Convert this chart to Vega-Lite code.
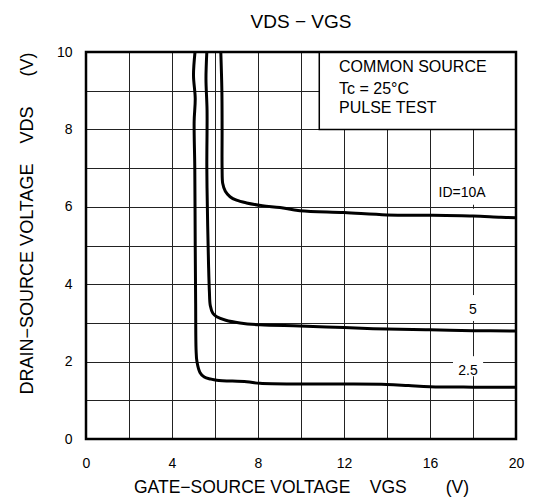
{
  "$schema": "https://vega.github.io/schema/vega-lite/v6.json",
  "width": 430,
  "height": 387,
  "autosize": {"type": "none"},
  "padding": {"left": 86, "top": 52, "right": 19, "bottom": 64},
  "background": "white",
  "title": {"text": "VDS − VGS", "fontSize": 19, "font": "Liberation Sans", "fontWeight": "normal", "offset": 13, "color": "black"},
  "config": {"view": {"stroke": null}},
  "datasets": {
    "curves": [
      {"id": "10A", "i": 1, "x": 6.27, "y": 10.0},
      {"id": "10A", "i": 2, "x": 6.32, "y": 9.0},
      {"id": "10A", "i": 3, "x": 6.33, "y": 8.0},
      {"id": "10A", "i": 4, "x": 6.33, "y": 7.0},
      {"id": "10A", "i": 5, "x": 6.36, "y": 6.6},
      {"id": "10A", "i": 6, "x": 6.48, "y": 6.4},
      {"id": "10A", "i": 7, "x": 6.7, "y": 6.26},
      {"id": "10A", "i": 8, "x": 7.0, "y": 6.17},
      {"id": "10A", "i": 9, "x": 7.47, "y": 6.1},
      {"id": "10A", "i": 10, "x": 8.2, "y": 6.03},
      {"id": "10A", "i": 11, "x": 9.02, "y": 5.98},
      {"id": "10A", "i": 12, "x": 9.95, "y": 5.9},
      {"id": "10A", "i": 13, "x": 12.0, "y": 5.85},
      {"id": "10A", "i": 14, "x": 14.0, "y": 5.79},
      {"id": "10A", "i": 15, "x": 16.0, "y": 5.78},
      {"id": "10A", "i": 16, "x": 18.0, "y": 5.76},
      {"id": "10A", "i": 17, "x": 19.3, "y": 5.73},
      {"id": "10A", "i": 18, "x": 20.0, "y": 5.72},
      {"id": "5A", "i": 1, "x": 5.62, "y": 10.0},
      {"id": "5A", "i": 2, "x": 5.58, "y": 9.3},
      {"id": "5A", "i": 3, "x": 5.63, "y": 8.5},
      {"id": "5A", "i": 4, "x": 5.62, "y": 7.0},
      {"id": "5A", "i": 5, "x": 5.66, "y": 5.5},
      {"id": "5A", "i": 6, "x": 5.7, "y": 4.5},
      {"id": "5A", "i": 7, "x": 5.74, "y": 3.8},
      {"id": "5A", "i": 8, "x": 5.78, "y": 3.45},
      {"id": "5A", "i": 9, "x": 5.9, "y": 3.25},
      {"id": "5A", "i": 10, "x": 6.08, "y": 3.16},
      {"id": "5A", "i": 11, "x": 6.5, "y": 3.07},
      {"id": "5A", "i": 12, "x": 7.16, "y": 3.0},
      {"id": "5A", "i": 13, "x": 8.09, "y": 2.95},
      {"id": "5A", "i": 14, "x": 9.95, "y": 2.92},
      {"id": "5A", "i": 15, "x": 12.0, "y": 2.88},
      {"id": "5A", "i": 16, "x": 14.0, "y": 2.84},
      {"id": "5A", "i": 17, "x": 16.0, "y": 2.82},
      {"id": "5A", "i": 18, "x": 18.0, "y": 2.8},
      {"id": "5A", "i": 19, "x": 20.0, "y": 2.79},
      {"id": "2.5A", "i": 1, "x": 5.07, "y": 10.0},
      {"id": "2.5A", "i": 2, "x": 5.0, "y": 9.4},
      {"id": "2.5A", "i": 3, "x": 5.08, "y": 8.8},
      {"id": "2.5A", "i": 4, "x": 5.03, "y": 8.2},
      {"id": "2.5A", "i": 5, "x": 5.06, "y": 7.0},
      {"id": "2.5A", "i": 6, "x": 5.08, "y": 5.0},
      {"id": "2.5A", "i": 7, "x": 5.1, "y": 3.5},
      {"id": "2.5A", "i": 8, "x": 5.12, "y": 2.3},
      {"id": "2.5A", "i": 9, "x": 5.16, "y": 2.0},
      {"id": "2.5A", "i": 10, "x": 5.3, "y": 1.72},
      {"id": "2.5A", "i": 11, "x": 5.5, "y": 1.6},
      {"id": "2.5A", "i": 12, "x": 5.8, "y": 1.55},
      {"id": "2.5A", "i": 13, "x": 6.08, "y": 1.52},
      {"id": "2.5A", "i": 14, "x": 7.47, "y": 1.48},
      {"id": "2.5A", "i": 15, "x": 8.09, "y": 1.44},
      {"id": "2.5A", "i": 16, "x": 10.0, "y": 1.42},
      {"id": "2.5A", "i": 17, "x": 12.0, "y": 1.42},
      {"id": "2.5A", "i": 18, "x": 14.0, "y": 1.41},
      {"id": "2.5A", "i": 19, "x": 15.0, "y": 1.38},
      {"id": "2.5A", "i": 20, "x": 16.0, "y": 1.35},
      {"id": "2.5A", "i": 21, "x": 18.0, "y": 1.34},
      {"id": "2.5A", "i": 22, "x": 20.0, "y": 1.34}
    ],
    "blanks": [
      {"x": 16.9, "x2": 19.1, "y": 6.05, "y2": 6.8},
      {"x": 17.5, "x2": 18.5, "y": 5.78, "y2": 5.95},
      {"x": 17.7, "x2": 18.3, "y": 3.05, "y2": 3.72},
      {"x": 17.07, "x2": 18.47, "y": 1.62, "y2": 2.14}
    ],
    "box": [{"x": 10.85, "x2": 20, "y": 8, "y2": 10}],
    "frame": [{"x": 0, "x2": 20, "y": 0, "y2": 10}],
    "labels": [
      {"x": 17.49, "y": 6.36, "t": "ID=10A"},
      {"x": 18.0, "y": 3.33, "t": "5"},
      {"x": 17.77, "y": 1.77, "t": "2.5"}
    ],
    "legend": [
      {"x": 11.77, "y": 9.62, "t": "COMMON SOURCE"},
      {"x": 11.77, "y": 9.04, "t": "Tc = 25°C"},
      {"x": 11.77, "y": 8.55, "t": "PULSE TEST"}
    ]
  },
  "encoding": {
    "x": {"field": "x", "type": "quantitative", "scale": {"domain": [0, 20], "nice": false, "zero": false},
      "axis": {"values": [0, 2, 4, 6, 8, 10, 12, 14, 16, 18, 20], "labelExpr": "datum.value % 4 === 0 ? datum.label : ''",
        "grid": true, "gridColor": "#222222", "gridWidth": 1, "gridOpacity": 1, "ticks": false, "tickSize": 0, "domain": false,
        "labelPadding": 17, "labelFontSize": 14, "labelFont": "Liberation Sans", "labelColor": "black", "labelFlush": false,
        "title": "\u00a0\u00a0\u00a0\u00a0GATE−SOURCE VOLTAGE\u00a0\u00a0\u00a0\u00a0VGS\u00a0\u00a0\u00a0\u00a0\u00a0\u00a0\u00a0\u00a0(V)", "titleFontSize": 17.5, "titleFontWeight": "normal", "titleFont": "Liberation Sans",
        "titleColor": "black", "titlePadding": 8}},
    "y": {"field": "y", "type": "quantitative", "scale": {"domain": [0, 10], "nice": false, "zero": false},
      "axis": {"values": [0, 1, 2, 3, 4, 5, 6, 7, 8, 9, 10], "labelExpr": "datum.value % 2 === 0 ? datum.label : ''",
        "grid": true, "gridColor": "#222222", "gridWidth": 1, "gridOpacity": 1, "ticks": false, "tickSize": 0, "domain": false,
        "labelPadding": 14, "labelFontSize": 14, "labelFont": "Liberation Sans", "labelColor": "black",
        "title": "DRAIN−SOURCE VOLTAGE\u00a0\u00a0\u00a0\u00a0VDS\u00a0\u00a0\u00a0\u00a0\u00a0\u00a0(V)\u00a0", "titleFontSize": 18, "titleFontWeight": "normal", "titleFont": "Liberation Sans",
        "titleColor": "black", "titlePadding": 20, "titleAnchor": "end"}}
  },
  "layer": [
    {
      "data": {"name": "blanks"},
      "mark": {"type": "rect", "fill": "white", "strokeWidth": 0},
      "encoding": {"x2": {"field": "x2"}, "y2": {"field": "y2"}}
    },
    {
      "data": {"name": "box"},
      "mark": {"type": "rect", "fill": "white", "stroke": "black", "strokeWidth": 1.5},
      "encoding": {"x2": {"field": "x2"}, "y2": {"field": "y2"}}
    },
    {
      "data": {"name": "curves"},
      "mark": {"type": "line", "color": "black", "strokeWidth": 3, "interpolate": "catmull-rom", "clip": true},
      "encoding": {
        "detail": {"field": "id"},
        "order": {"field": "i", "type": "quantitative"}
      }
    },
    {
      "data": {"name": "labels"},
      "mark": {"type": "text", "font": "Liberation Sans", "fontSize": 14, "color": "black", "align": "center", "baseline": "middle"},
      "encoding": {"text": {"field": "t"}}
    },
    {
      "data": {"name": "legend"},
      "mark": {"type": "text", "font": "Liberation Sans", "fontSize": 16, "color": "black", "align": "left", "baseline": "middle"},
      "encoding": {"text": {"field": "t"}}
    },
    {
      "data": {"name": "frame"},
      "mark": {"type": "rect", "fill": null, "fillOpacity": 0, "stroke": "black", "strokeWidth": 2.5},
      "encoding": {"x2": {"field": "x2"}, "y2": {"field": "y2"}}
    }
  ]
}
